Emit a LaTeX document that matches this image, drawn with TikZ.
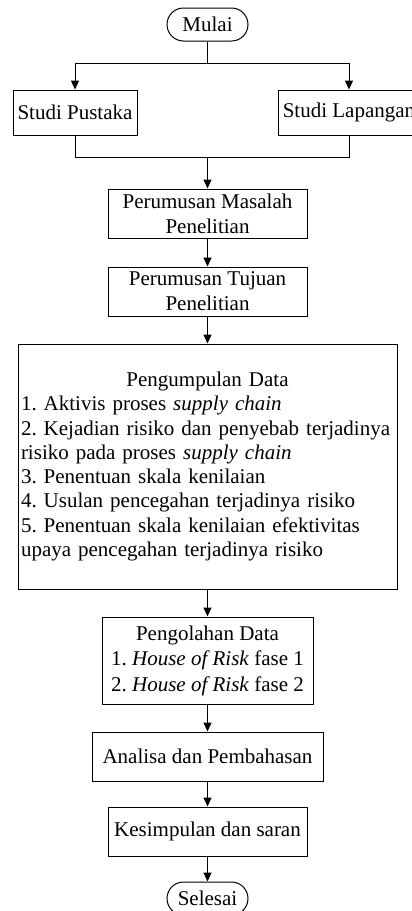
\documentclass[tikz,border=0pt]{standalone}
\usepackage{fontspec}
\setmainfont{Liberation Serif}
\usetikzlibrary{arrows.meta,positioning}
\frenchspacing

\begin{document}
\begin{tikzpicture}[x=1pt,y=-1pt,
	font=\fontsize{21}{25}\selectfont,
	box/.style={draw,line width=1pt,inner sep=0pt,align=center,minimum height=49pt},
	terminal/.style={draw,line width=1pt,rounded corners=16.5pt,inner sep=0pt,
		minimum width=81pt,minimum height=33pt},
	flow/.style={line width=1pt,-{Triangle[length=9pt,width=8pt]}},
	link/.style={line width=1pt}]

	%Page size of the flow chart
	\useasboundingbox (0,0) rectangle (412,911);

	%Centre line of the chart and the two study columns
	\pgfmathsetmacro{\cx}{207.5}
	\pgfmathsetmacro{\lx}{75}
	\pgfmathsetmacro{\rx}{349}

	%Start and the two studies
	\node[terminal] (mulai) at (\cx,24.5) {Mulai};
	\coordinate (split) at (\cx,63);
	\node[box,minimum width=124pt,minimum height=45pt] (pustaka) at (\lx,112.5) {Studi Pustaka};
	\node[box,minimum width=142pt,minimum height=45pt] (lapangan) at (\rx,112.5) {Studi Lapangan};
	\coordinate (join) at (\cx,157);

	%Main steps
	\node[box,minimum width=199pt] (masalah) at (\cx,213.5) {Perumusan Masalah\\Penelitian};
	\node[box,minimum width=199pt] (tujuan) at (\cx,291.5) {Perumusan Tujuan\\Penelitian};
	\node[draw,line width=1pt,inner xsep=3pt,inner ysep=0pt,minimum width=379pt,minimum height=245pt,
		text width=373pt,align=left,font=\fontsize{21}{24.3}\selectfont] (kumpul) at (\cx,466.5)
		{\makebox[373pt][c]{Pengumpulan Data}\\
		1. Aktivis proses \textit{supply chain}\\
		2. Kejadian risiko dan penyebab terjadinya\\
		risiko pada proses \textit{supply chain}\\
		3. Penentuan skala kenilaian\\
		4. Usulan pencegahan terjadinya risiko\\
		5. Penentuan skala kenilaian efektivitas\\
		upaya pencegahan terjadinya risiko};
	\node[box,minimum width=211pt,minimum height=87pt,font=\fontsize{21}{25.5}\selectfont] (olah) at (\cx,660.5)
		{Pengolahan Data\\1. \textit{House of Risk} fase 1\\2. \textit{House of Risk} fase 2};
	\node[box,minimum width=231pt] (analisa) at (\cx,756.5) {Analisa dan Pembahasan};
	\node[box,minimum width=199pt] (simpul) at (\cx,831.5) {Kesimpulan dan saran};
	\node[terminal] (selesai) at (\cx,898.5) {Selesai};

	%Connectors
	\draw[link] (mulai.south) -- (split);
	\draw[flow] (split) -| (pustaka.north);
	\draw[flow] (split) -| (lapangan.north);
	\draw[link] (pustaka.south) |- (join);
	\draw[link] (lapangan.south) |- (join);
	\draw[flow] (join) -- (masalah.north);
	\draw[flow] (masalah) -- (tujuan);
	\draw[flow] (tujuan) -- (kumpul);
	\draw[flow] (kumpul) -- (olah);
	\draw[flow] (olah) -- (analisa);
	\draw[flow] (analisa) -- (simpul);
	\draw[flow] (simpul) -- (selesai);

\end{tikzpicture}
\end{document}
